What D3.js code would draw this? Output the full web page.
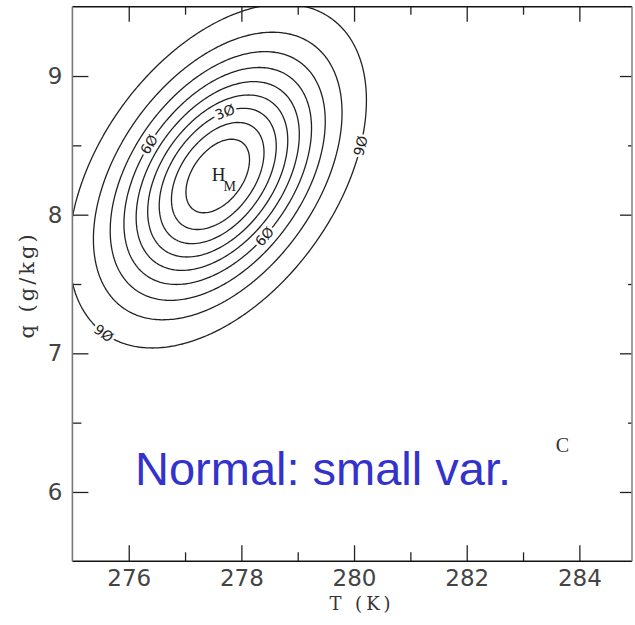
<!DOCTYPE html>
<html>
<head>
<meta charset="utf-8">
<script src="https://cdn.jsdelivr.net/npm/d3@7"></script>
<style>
  body { margin: 0; background: #fff; }
</style>
</head>
<body>
<svg id="chart" width="635" height="625"></svg>
<script>
// contour levels: percent of the distribution enclosed
var levels = [10, 20, 30, 40, 50, 60, 70, 80, 90];
// which contours carry a label, and where on the ellipse (deg)
var labelLevels = [30, 60, 60, 90, 90];
var labelAngles = [83, 137, -60, -16, -140];
// normal distribution
var meanT = 277.58, meanQ = 8.279;
var sdT = 1.23, sdQ = 0.578, rho = 0.44;
// axes
var xTicks = [276, 278, 280, 282, 284];
var xMinor = [277, 279, 281, 283];
var yTicks = [6, 7, 8, 9];
var yMinor = [6.5, 7.5, 8.5];

var svg = d3.select("#chart");
// frame edges (window.top is taken, hence the prefix)
var fLeft = 72.4, fRight = 632, fTop = 6.7, fBottom = 561.3;

var x = d3.scaleLinear().domain([275, 285]).range([72.4, 635.7]);
var y = d3.scaleLinear().domain([5.5, 9.5]).range([561.3, 6.7]);

svg.append("defs").append("clipPath").attr("id", "plot")
  .append("rect")
  .attr("x", fLeft).attr("y", fTop)
  .attr("width", fRight - fLeft).attr("height", fBottom - fTop);

// density grid, a bit larger than the frame so the clipped
// contours don't get closed along the border
var step = 2;
var x0 = fLeft - 8, y0 = fTop - 8;
var nx = Math.ceil((fRight + 8 - x0) / step) + 1;
var ny = Math.ceil((fBottom + 8 - y0) / step) + 1;
var values = new Array(nx * ny);
var k = 1 - rho * rho;
for (var j = 0; j < ny; j++) {
  for (var i = 0; i < nx; i++) {
    var zt = (x.invert(x0 + i * step) - meanT) / sdT;
    var zq = (y.invert(y0 + j * step) - meanQ) / sdQ;
    var d2 = (zt * zt - 2 * rho * zt * zq + zq * zq) / k;
    values[j * nx + i] = Math.exp(-0.5 * d2);
  }
}

var contours = d3.contours()
  .size([nx, ny])
  .thresholds(levels.map(function (L) { return 1 - L / 100; }))(values);

var gridPath = d3.geoPath(d3.geoTransform({
  point: function (gx, gy) {
    this.stream.point(x0 + (gx - 0.5) * step, y0 + (gy - 0.5) * step);
  }
}));

var g = svg.append("g").attr("clip-path", "url(#plot)");
g.selectAll("path.contour")
  .data(contours)
  .enter().append("path")
  .attr("class", "contour")
  .attr("d", gridPath)
  .attr("fill", "none")
  .attr("stroke", "#222")
  .attr("stroke-width", 1.3);

// contour labels
function ellPoint(L, deg) {
  var r = Math.sqrt(-2 * Math.log(1 - L / 100));
  var t = deg * Math.PI / 180;
  return [meanT + r * sdT * Math.cos(t),
          meanQ + r * sdQ * (rho * Math.cos(t) + Math.sqrt(k) * Math.sin(t))];
}
labelLevels.forEach(function (L, n) {
  var p = ellPoint(L, labelAngles[n]);
  var p2 = ellPoint(L, labelAngles[n] + 0.5);
  var px = x(p[0]), py = y(p[1]);
  var ang = Math.atan2(y(p2[1]) - py, x(p2[0]) - px) * 180 / Math.PI;
  if (ang > 90) ang -= 180;
  if (ang <= -90) ang += 180;
  g.append("text")
    .attr("transform", "translate(" + px + "," + py + ") rotate(" + ang + ")")
    .attr("text-anchor", "middle")
    .attr("dy", "0.35em")
    .attr("font-family", "DejaVu Sans")
    .attr("font-size", 14)
    .attr("fill", "#222")
    .attr("stroke", "#fff")
    .attr("stroke-width", 5)
    .attr("paint-order", "stroke")
    .text(String(L).replace("0", "Ø"));
});

// H_M at the maximum
var hm = g.append("text")
  .attr("x", x(meanT) - 6)
  .attr("y", y(meanQ) + 5)
  .attr("font-family", "Liberation Serif")
  .attr("font-size", 19)
  .attr("fill", "#222")
  .text("H");
hm.append("tspan").attr("dx", -2).attr("dy", 10).attr("font-size", 14).text("M");

g.append("text")
  .attr("x", x(283.7)).attr("y", y(6.34))
  .attr("dy", "0.35em")
  .attr("text-anchor", "middle")
  .attr("font-family", "Liberation Serif")
  .attr("font-size", 20)
  .attr("fill", "#333")
  .text("C");

// ticks, all pointing inward
function styleAxis(sel) {
  sel.select(".domain").remove();
  sel.selectAll("line").attr("stroke", "#222").attr("stroke-width", 1.3);
  sel.selectAll("text")
    .attr("font-family", "DejaVu Sans")
    .attr("font-size", 23)
    .attr("fill", "#444");
}

svg.append("g").attr("transform", "translate(0," + fBottom + ")")
  .call(d3.axisBottom(x).tickValues(xTicks).tickSize(-16).tickPadding(8)
        .tickFormat(d3.format("d")))
  .call(styleAxis);
svg.append("g").attr("transform", "translate(0," + fBottom + ")")
  .call(d3.axisBottom(x).tickValues(xMinor).tickSize(-9).tickFormat(""))
  .call(styleAxis);
svg.append("g").attr("transform", "translate(0," + fTop + ")")
  .call(d3.axisTop(x).tickValues(xTicks).tickSize(-15).tickFormat(""))
  .call(styleAxis);
svg.append("g").attr("transform", "translate(0," + fTop + ")")
  .call(d3.axisTop(x).tickValues(xMinor).tickSize(-8).tickFormat(""))
  .call(styleAxis);

svg.append("g").attr("transform", "translate(" + fLeft + ",0)")
  .call(d3.axisLeft(y).tickValues(yTicks).tickSize(-16).tickPadding(10)
        .tickFormat(d3.format("d")))
  .call(styleAxis);
svg.append("g").attr("transform", "translate(" + fLeft + ",0)")
  .call(d3.axisLeft(y).tickValues(yMinor).tickSize(-9).tickFormat(""))
  .call(styleAxis);
svg.append("g").attr("transform", "translate(" + fRight + ",0)")
  .call(d3.axisRight(y).tickValues(yTicks).tickSize(-12).tickFormat(""))
  .call(styleAxis);
svg.append("g").attr("transform", "translate(" + fRight + ",0)")
  .call(d3.axisRight(y).tickValues(yMinor).tickSize(-4).tickFormat(""))
  .call(styleAxis);

// frame
svg.append("line").attr("x1", fLeft).attr("x2", fRight).attr("y1", fTop).attr("y2", fTop)
  .attr("stroke", "#111").attr("stroke-width", 1.6);
svg.append("line").attr("x1", fLeft).attr("x2", fRight).attr("y1", fBottom).attr("y2", fBottom)
  .attr("stroke", "#111").attr("stroke-width", 1.6);
svg.append("line").attr("x1", fLeft).attr("x2", fLeft).attr("y1", fTop).attr("y2", fBottom)
  .attr("stroke", "#777").attr("stroke-width", 1.6);
svg.append("line").attr("x1", fRight).attr("x2", fRight).attr("y1", fTop).attr("y2", fBottom)
  .attr("stroke", "#888").attr("stroke-width", 1.6);

// axis titles
svg.append("text")
  .attr("x", 362).attr("y", 610)
  .attr("text-anchor", "middle")
  .attr("font-family", "DejaVu Serif")
  .attr("font-size", 18)
  .attr("letter-spacing", 4)
  .attr("fill", "#333")
  .text("T (K)");
svg.append("text")
  .attr("transform", "translate(34,285) rotate(-90)")
  .attr("text-anchor", "middle")
  .attr("font-family", "DejaVu Serif")
  .attr("font-size", 21)
  .attr("letter-spacing", 3)
  .attr("fill", "#333")
  .text("q (g/kg)");

// slide annotation
svg.append("text")
  .attr("x", 135).attr("y", 485)
  .attr("font-family", "Liberation Sans")
  .attr("font-size", 47)
  .attr("fill", "#3333cc")
  .text("Normal: small var.");
</script>
</body>
</html>
